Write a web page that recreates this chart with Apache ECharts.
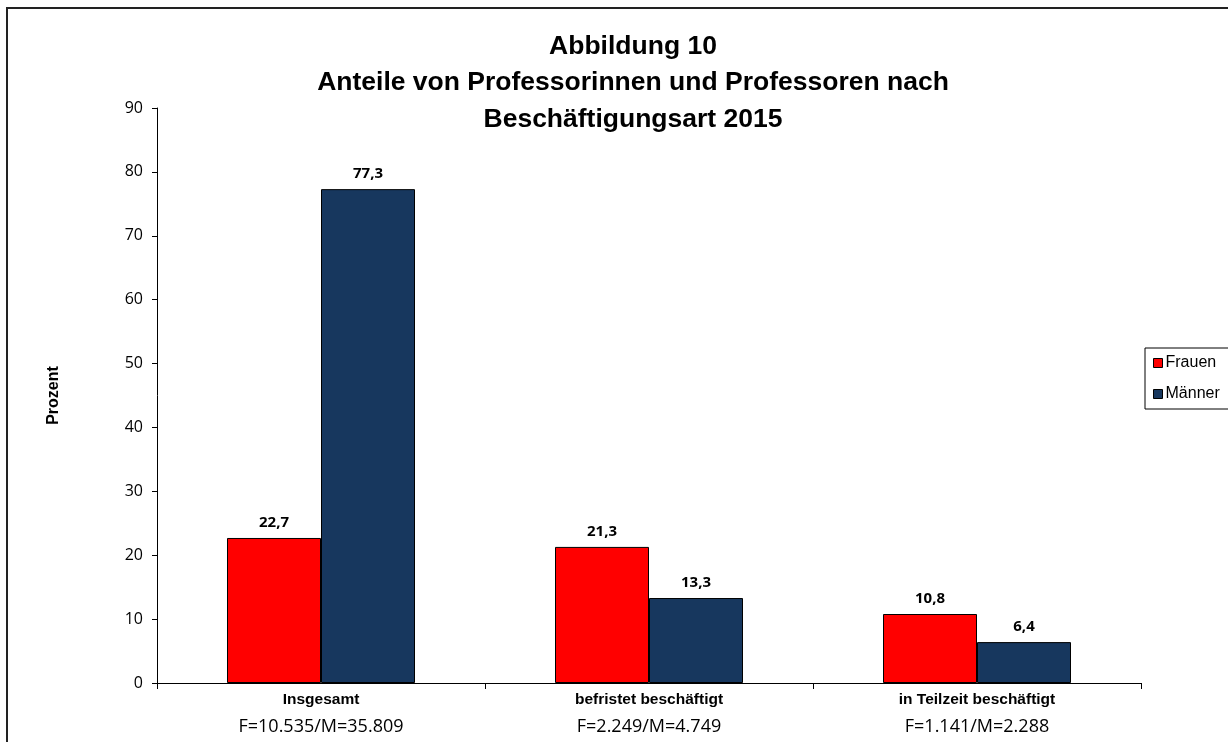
<!DOCTYPE html>
<html>
<head>
<meta charset="utf-8">
<script src="https://cdn.jsdelivr.net/npm/echarts@6/dist/echarts.min.js"></script>
<style>
html,body{margin:0;padding:0;background:#fff;}
#chart{width:1228px;height:742px;}
</style>
</head>
<body>
<div id="chart"></div>
<script>
const titleLines = ['Abbildung 10', 'Anteile von Professorinnen und Professoren nach', 'Beschäftigungsart 2015'];
const categories = ['Insgesamt', 'befristet beschäftigt', 'in Teilzeit beschäftigt'];
const subLabels = ['F=10.535/M=35.809', 'F=2.249/M=4.749', 'F=1.141/M=2.288'];
const seriesNames = ['Frauen', 'Männer'];
const frauen = [22.7, 21.3, 10.8];
const maenner = [77.3, 13.3, 6.4];
const yTicks = { min: 0, max: 90, interval: 10 };
const yName = 'Prozent';

const chart = echarts.init(document.getElementById('chart'), null, { renderer: 'canvas' });

const labelFmt = p => String(p.value.toFixed(1)).replace('.', ',');

const barLabel = {
  show: true,
  position: 'top',
  distance: 8,
  color: '#000',
  fontFamily: '"Open Sans", "Liberation Sans", sans-serif',
  fontWeight: 'bold',
  fontSize: 15,
  formatter: labelFmt
};

chart.setOption({
  animation: false,
  backgroundColor: '#fff',
  title: {
    text: titleLines.join('\n'),
    left: 633,
    top: 28,
    padding: 0,
    textAlign: 'center',
    textStyle: {
      fontFamily: '"Liberation Sans", Arial, sans-serif',
      fontWeight: 'bold',
      fontSize: 26.5,
      lineHeight: 36.5,
      color: '#000'
    }
  },
  graphic: [{
    type: 'rect',
    shape: { x: 7, y: 8, width: 1400, height: 900 },
    style: { fill: 'none', stroke: '#222', lineWidth: 2 },
    silent: true,
    z: -1
  }],
  legend: {
    orient: 'vertical',
    left: 1145,
    top: 348,
    padding: [7, 14, 7, 8],
    itemGap: 15,
    itemWidth: 9,
    itemHeight: 9,
    icon: 'rect',
    borderColor: '#000',
    borderWidth: 1,
    textStyle: {
      fontFamily: '"Liberation Sans", Arial, sans-serif',
      fontSize: 16,
      color: '#000',
      padding: [0, 0, 0, -2]
    },
    itemStyle: { borderColor: '#000', borderWidth: 1 },
    data: seriesNames
  },
  grid: { left: 157, right: 87, top: 108, bottom: 59, containLabel: false },
  xAxis: {
    type: 'category',
    data: categories,
    axisLine: { show: true, lineStyle: { color: '#000', width: 1 } },
    axisTick: { show: true, length: 6, lineStyle: { color: '#000' } },
    axisLabel: {
      interval: 0,
      margin: 4,
      color: '#000',
      formatter: (v, i) => '{a|' + v + '}\n{b|' + subLabels[i] + '}',
      rich: {
        a: {
          fontFamily: '"Liberation Sans", Arial, sans-serif',
          fontWeight: 'bold',
          fontSize: 15.5,
          lineHeight: 26,
          color: '#000'
        },
        b: {
          fontFamily: '"Open Sans", "Liberation Sans", sans-serif',
          fontSize: 18,
          lineHeight: 28,
          color: '#000'
        }
      }
    }
  },
  yAxis: {
    type: 'value',
    min: yTicks.min,
    max: yTicks.max,
    interval: yTicks.interval,
    name: yName,
    nameLocation: 'middle',
    nameGap: 95,
    nameRotate: 90,
    nameTextStyle: {
      fontFamily: '"Liberation Sans", Arial, sans-serif',
      fontWeight: 'bold',
      fontSize: 16,
      color: '#000'
    },
    splitLine: { show: false },
    axisLine: { show: true, lineStyle: { color: '#000', width: 1 } },
    axisTick: { show: true, length: 5, lineStyle: { color: '#000' } },
    axisLabel: {
      margin: 14,
      color: '#000',
      fontFamily: '"Open Sans", "Liberation Sans", sans-serif',
      fontSize: 16
    }
  },
  series: [
    {
      name: seriesNames[0],
      type: 'bar',
      data: frauen,
      barWidth: 94,
      barGap: '0%',
      itemStyle: { color: '#FF0000', borderColor: '#000', borderWidth: 1 },
      label: barLabel
    },
    {
      name: seriesNames[1],
      type: 'bar',
      data: maenner,
      barWidth: 94,
      barGap: '0%',
      itemStyle: { color: '#17375E', borderColor: '#000', borderWidth: 1 },
      label: barLabel
    }
  ]
});
</script>
</body>
</html>
